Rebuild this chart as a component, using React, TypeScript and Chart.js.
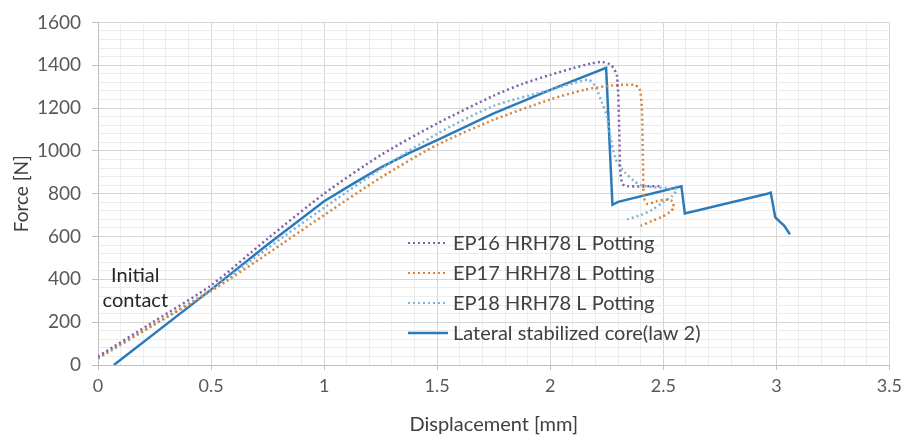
import React, { useEffect, useRef } from "react";
import { Chart, registerables } from "chart.js";

Chart.register(...registerables);

// ---- data ----
const ep16X = [0.0, 0.25, 0.5, 0.75, 1.0, 1.25, 1.5, 1.75, 1.875, 2.0, 2.1, 2.18, 2.23, 2.27, 2.295, 2.305, 2.31, 2.32, 2.34, 2.49];
const ep16Y = [40, 205, 372, 590, 800, 980, 1128, 1258, 1312, 1355, 1386, 1408, 1415, 1400, 1350, 1100, 900, 845, 835, 835];

const ep17X = [0.0, 0.25, 0.5, 0.75, 1.0, 1.25, 1.5, 1.75, 2.0, 2.15, 2.27, 2.37, 2.395, 2.405, 2.41, 2.415, 2.43, 2.47, 2.51, 2.54, 2.545, 2.53, 2.49, 2.45, 2.4];
const ep17Y = [35, 190, 345, 520, 700, 875, 1028, 1145, 1240, 1285, 1305, 1308, 1290, 1200, 950, 780, 752, 765, 772, 765, 735, 715, 690, 673, 650];

const ep18X = [0.0, 0.25, 0.5, 0.75, 1.0, 1.25, 1.5, 1.75, 2.0, 2.1, 2.17, 2.2, 2.23, 2.25, 2.26, 2.29, 2.33, 2.37, 2.4, 2.46, 2.53, 2.56, 2.54, 2.5, 2.45, 2.4, 2.34];
const ep18Y = [30, 190, 352, 545, 735, 915, 1080, 1210, 1285, 1315, 1332, 1300, 1222, 1166, 1097, 960, 900, 860, 840, 830, 825, 820, 790, 760, 725, 700, 680];

const lawX = [0.07, 0.5, 0.75, 1.0, 1.125, 1.25, 1.375, 1.5, 1.75, 2.0, 2.247, 2.275, 2.3, 2.58, 2.595, 2.96, 2.975, 2.995, 3.015, 3.035, 3.06];
const lawY = [0, 352, 563, 765, 845, 922, 990, 1050, 1175, 1285, 1388, 748, 762, 835, 708, 800, 805, 690, 670, 650, 610];

const seriesLabels = [
  "EP16 HRH78 L Potting",
  "EP17 HRH78 L Potting",
  "EP18 HRH78 L Potting",
  "Lateral stabilized core(law 2)",
];

const annotationLines = ["Initial", "contact"];
const annotationX = 0.165;
const annotationY = [420, 302];

const xTitle = "Displacement [mm]";
const yTitle = "Force [N]";

const FONT = "Lato, 'Open Sans', sans-serif";

const toPts = (xs: number[], ys: number[]) => xs.map((x, i) => ({ x, y: ys[i] }));

const isMajor = (v: number, step: number) => Math.abs(v / step - Math.round(v / step)) < 1e-6;

const overlayPlugin = {
  id: "overlay",
  afterDatasetsDraw(chart: any) {
    const { ctx, scales } = chart;
    ctx.save();
    // annotation
    ctx.font = `20px ${FONT}`;
    ctx.fillStyle = "#262626";
    ctx.textAlign = "center";
    ctx.textBaseline = "middle";
    annotationLines.forEach((t, i) => {
      ctx.fillText(t, scales.x.getPixelForValue(annotationX), scales.y.getPixelForValue(annotationY[i]));
    });
    // legend
    const lx0 = 408;
    const lx1 = 448;
    const ty = 243;
    ctx.textAlign = "left";
    ctx.font = `20px ${FONT}`;
    chart.data.datasets.forEach((ds: any, i: number) => {
      const y = ty + i * 30;
      ctx.strokeStyle = ds.borderColor;
      ctx.lineWidth = i === 3 ? 2.5 : 2;
      ctx.setLineDash(ds.borderDash || []);
      ctx.lineCap = "butt";
      ctx.beginPath();
      ctx.moveTo(lx0, y);
      ctx.lineTo(lx1, y);
      ctx.stroke();
      ctx.setLineDash([]);
      ctx.fillStyle = "#404040";
      ctx.fillText(ds.label, 453, y + 1);
    });
    ctx.restore();
  },
};

export default function App() {
  const ref = useRef<HTMLCanvasElement | null>(null);

  useEffect(() => {
    if (!ref.current) return;
    const dotted = [2, 3];
    const chart = new Chart(ref.current, {
      type: "line",
      data: {
        datasets: [
          {
            label: seriesLabels[0],
            data: toPts(ep16X, ep16Y),
            borderColor: "#7f5fa6",
            borderWidth: 2.5,
            borderDash: dotted,
            pointRadius: 0,
            tension: 0.25,
            fill: false,
          },
          {
            label: seriesLabels[1],
            data: toPts(ep17X, ep17Y),
            borderColor: "#d6853a",
            borderWidth: 2.5,
            borderDash: dotted,
            pointRadius: 0,
            tension: 0.25,
            fill: false,
          },
          {
            label: seriesLabels[2],
            data: toPts(ep18X, ep18Y),
            borderColor: "#7eb3d8",
            borderWidth: 2.5,
            borderDash: dotted,
            pointRadius: 0,
            tension: 0.25,
            fill: false,
          },
          {
            label: seriesLabels[3],
            data: toPts(lawX, lawY),
            borderColor: "#2b7bba",
            borderWidth: 2.5,
            pointRadius: 0,
            tension: 0,
            fill: false,
          },
        ],
      },
      options: {
        animation: false,
        responsive: true,
        maintainAspectRatio: false,
        layout: { padding: { left: 0, right: 15, top: 19, bottom: 0 } },
        plugins: {
          legend: { display: false },
          tooltip: { enabled: false },
        },
        scales: {
          x: {
            type: "linear",
            min: 0,
            max: 3.5,
            afterFit: (s: any) => {
              s.height = 76;
            },
            ticks: {
              stepSize: 0.1,
              autoSkip: false,
              maxRotation: 0,
              padding: 5,
              color: "#595959",
              font: { family: FONT, size: 18 },
              callback: (v: any) => (isMajor(Number(v), 0.5) ? String(Math.round(Number(v) * 2) / 2) : ""),
            },
            grid: {
              color: (c: any) => (c.tick && isMajor(c.tick.value, 0.5) ? "#d6d6d6" : "#ececec"),
              tickColor: (c: any) => (c.tick && isMajor(c.tick.value, 0.5) ? "#bfbfbf" : "rgba(0,0,0,0)"),
              tickLength: 5,
              lineWidth: 1,
            },
            border: { color: "#bfbfbf", width: 1 },
            title: {
              display: true,
              text: xTitle,
              color: "#404040",
              font: { family: FONT, size: 20 },
              padding: { top: 0, bottom: 4 },
            },
          },
          y: {
            type: "linear",
            min: 0,
            max: 1600,
            afterFit: (s: any) => {
              s.width = 98;
            },
            ticks: {
              stepSize: 40,
              autoSkip: false,
              padding: 11,
              color: "#595959",
              font: { family: FONT, size: 19 },
              callback: (v: any) => (isMajor(Number(v), 200) ? String(Math.round(Number(v))) : ""),
            },
            grid: {
              color: (c: any) => (c.tick && isMajor(c.tick.value, 200) ? "#d6d6d6" : "#ececec"),
              tickColor: (c: any) => (c.tick && isMajor(c.tick.value, 200) ? "#bfbfbf" : "rgba(0,0,0,0)"),
              tickLength: 6,
              lineWidth: 1,
            },
            border: { color: "#bfbfbf", width: 1 },
            title: {
              display: true,
              text: yTitle,
              color: "#404040",
              font: { family: FONT, size: 19 },
              padding: { top: 10, bottom: 0 },
            },
          },
        },
      },
      plugins: [overlayPlugin],
    });
    return () => chart.destroy();
  }, []);

  return (
    <div style={{ position: "fixed", left: 0, top: 0, width: 907, height: 441, background: "#fff" }}>
      <canvas ref={ref} />
    </div>
  );
}
